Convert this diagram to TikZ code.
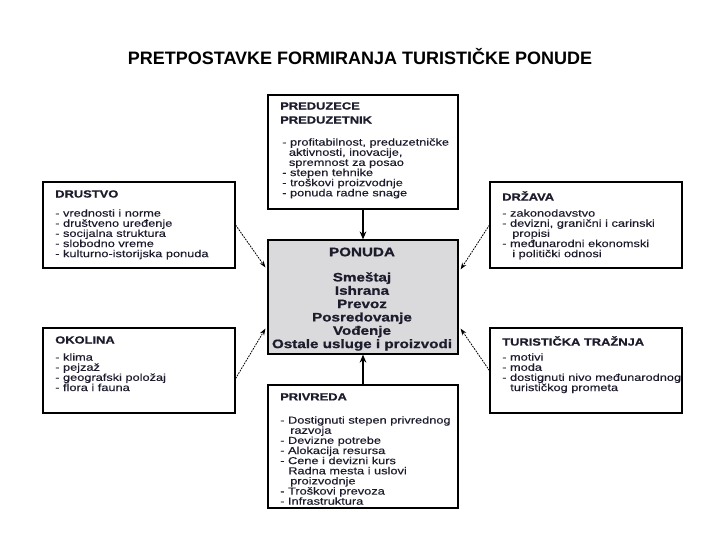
\documentclass[tikz,border=0pt]{standalone}
\usepackage{fontspec}
\setmainfont{Liberation Sans}
\newfontfamily\bodyf[FakeStretch=1.26,FakeBold=0.3]{Liberation Sans}
\newfontfamily\headf[FakeStretch=1.24,FakeBold=0.9,UprightFont=*-Bold]{Liberation Sans}
\usetikzlibrary{arrows.meta,calc,fit}
\definecolor{txtc}{RGB}{28,28,45}
\definecolor{pongray}{RGB}{218,218,220}
\begin{document}
\begin{tikzpicture}[x=0.75pt,y=-0.75pt,
  box/.style={draw=black,line width=0.9pt,inner sep=0pt},
  hd/.style={anchor=north west,inner sep=0pt,align=left,text=txtc,
    font=\headf\fontsize{7.8}{10.5}\selectfont},
  txt/.style={anchor=north west,inner sep=0pt,align=left,text=txtc,
    font=\bodyf\fontsize{7.6}{7.6}\selectfont},
  ponf/.style={inner sep=0pt,text=txtc,font=\headf\fontsize{9.2}{10}\selectfont},
  mainarrow/.style={line width=1.5pt,-{Stealth[length=6pt,width=5pt]}},
  sidearrow/.style={line width=0.6pt,dash pattern=on 1.3pt off 0.8pt,
    -{Stealth[length=5pt,width=3.5pt]}}]
\useasboundingbox (0,0) rectangle (720,540);

% title
\node[inner sep=0pt,font=\bfseries\fontsize{13.5}{15}\selectfont] (title) at (360,57)
  {PRETPOSTAVKE FORMIRANJA TURISTIČKE PONUDE};

% boxes
\node[box,fit={(268,95)(458,209)}] (pred) {};
\node[box,fit={(43,182)(235,268)}] (drus) {};
\node[box,fit={(490,182)(682,268)}] (drz) {};
\node[box,fill=pongray,fit={(268,240)(458,354)}] (pon) {};
\node[box,fit={(43,328)(235,413)}] (oko) {};
\node[box,fit={(490,328)(682,413)}] (tur) {};
\node[box,fit={(268,385)(458,508)}] (priv) {};

% PREDUZECE
\node[hd] (predh) at (280,102) {PREDUZECE\\PREDUZETNIK};
\node[txt] (predt) at (282,138) {- profitabilnost, preduzetničke\\
\hspace*{5pt}aktivnosti, inovacije,\\
\hspace*{5pt}spremnost za posao\\
- stepen tehnike\\
- troškovi proizvodnje\\
- ponuda radne snage};

% DRUSTVO
\node[hd] (drush) at (55,190) {DRUSTVO};
\node[txt] (drust) at (55,209) {- vrednosti i norme\\
- društveno uređenje\\
- socijalna struktura\\
- slobodno vreme\\
- kulturno-istorijska ponuda};

% DRZAVA
\node[hd] (drzh) at (502,191) {DRŽAVA};
\node[txt] (drzt) at (502,209) {- zakonodavstvo\\
- devizni, granični i carinski\\
\hspace*{7.5pt}propisi\\
- međunarodni ekonomski\\
\hspace*{7.5pt}i politički odnosi};

% PONUDA
\node[ponf] (ponh) at (362,252) {PONUDA};
\node[ponf,anchor=north,align=center] (pont) at (362,272)
  {Smeštaj\\Ishrana\\Prevoz\\Posredovanje\\Vođenje\\Ostale usluge i proizvodi};

% OKOLINA
\node[hd] (okoh) at (55,336) {OKOLINA};
\node[txt] (okot) at (55,353) {- klima\\
- pejzaž\\
- geografski položaj\\
- flora i fauna};

% TURISTICKA TRAZNJA
\node[hd] (turh) at (502,336) {TURISTIČKA TRAŽNJA};
\node[txt] (turt) at (502,353) {- motivi\\
- moda\\
- dostignuti nivo međunarodnog\\
\hspace*{6pt}turističkog prometa};

% PRIVREDA
\node[hd] (privh) at (280,393) {PRIVREDA};
\node[txt] (privt) at (280,416) {- Dostignuti stepen privrednog\\
\hspace*{7.5pt}razvoja\\
- Devizne potrebe\\
- Alokacija resursa\\
- Cene i devizni kurs\\
\hspace*{6pt}Radna mesta i uslovi\\
\hspace*{7.5pt}proizvodnje\\
- Troškovi prevoza\\
- Infrastruktura};

% connectors
\draw[mainarrow] (pred.south) -- (pon.north);
\draw[mainarrow] (priv.north) -- (pon.south);
\draw[sidearrow] (drus.east) -- ($(pon.north west)+(-2,28)$);
\draw[sidearrow] (drz.west) -- ($(pon.north east)+(2,30)$);
\draw[sidearrow] ($(oko.east)+(0,8)$) -- ($(pon.south west)+(-2,-26)$);
\draw[sidearrow] (tur.west) -- ($(pon.south east)+(2,-26)$);
\end{tikzpicture}
\end{document}
